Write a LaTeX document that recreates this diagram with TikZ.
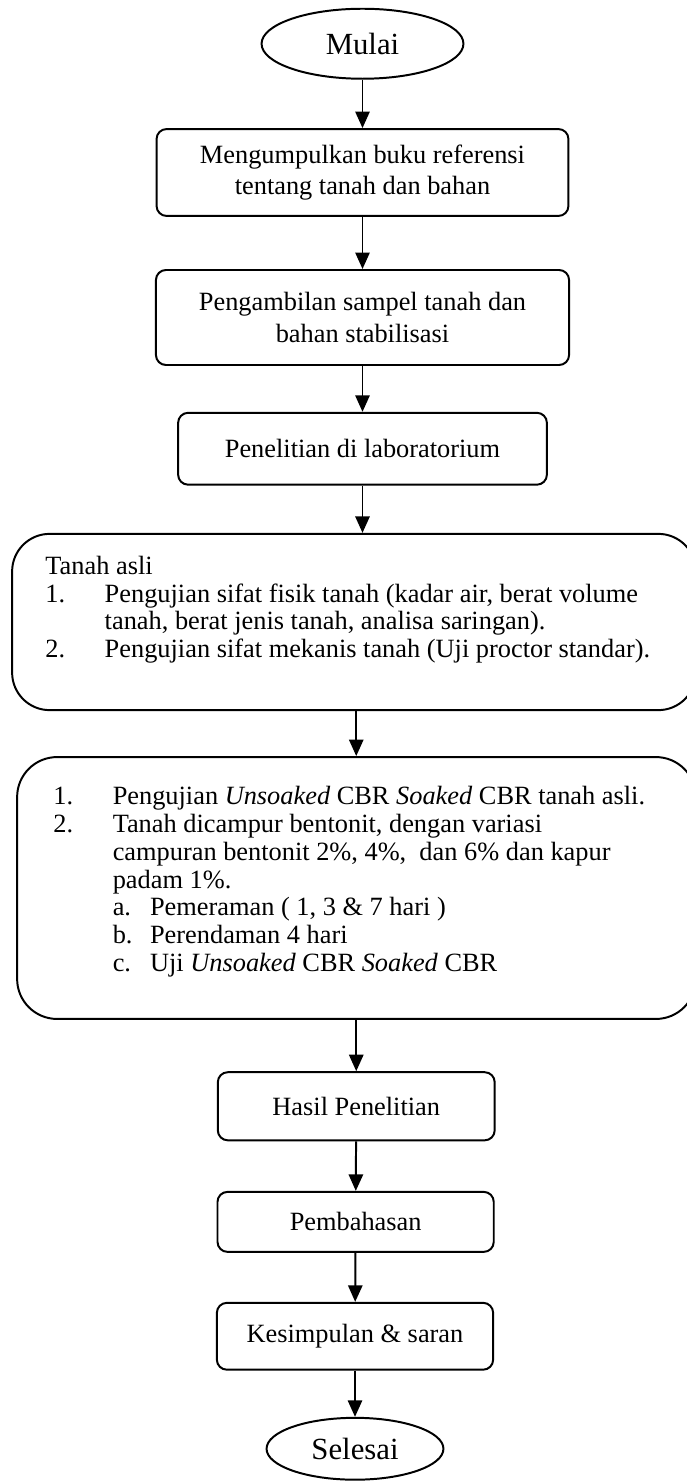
\documentclass[tikz,border=0pt]{standalone}
\usepackage{fontspec}
\setmainfont{Liberation Serif}
\usetikzlibrary{shapes.geometric,arrows.meta}

\newcommand{\numlabel}[1]{\makebox[27pt][l]{#1}}
\newcommand{\sublabel}[1]{\makebox[17pt][l]{#1}}

\begin{document}
\begin{tikzpicture}[
    terminal/.style={ellipse, draw=black, line width=0.9pt, inner sep=0pt, font=\fontsize{14}{16}\selectfont},
    process/.style={rectangle, rounded corners=0.16cm, draw=black, line width=0.9pt, align=center, font=\fontsize{12}{14.2}\selectfont},
    sector/.style={rectangle, rounded corners=0.6cm, draw=black, line width=0.9pt},
    listtext/.style={anchor=north west, align=left, inner sep=0pt, font=\fontsize{12}{12.6}\selectfont},
    flow/.style={-{Triangle[length=7.5pt,width=6.5pt]}, line width=0.9pt}
]
\useasboundingbox (0,0) rectangle (10.992,-23.728);

% Start
\node[terminal, minimum width=3.23cm, minimum height=1.12cm] (mulai) at (5.80,-0.70) {Mulai};

% Preparation
\node[process, minimum width=6.59cm, minimum height=1.39cm] (kumpul) at (5.80,-2.76) {Mengumpulkan buku referensi\\tentang tanah dan bahan};
\node[process, minimum width=6.61cm, minimum height=1.52cm] (sampel) at (5.80,-5.08) {Pengambilan sampel tanah dan\\bahan stabilisasi};
\node[process, minimum width=5.90cm, minimum height=1.15cm] (lab) at (5.80,-7.18) {Penelitian di laboratorium};

% Tanah asli
\node[sector, minimum width=10.94cm, minimum height=2.82cm] (asli) at (5.664,-9.952) {};
\node[listtext] (asliText) at (0.72,-8.89) {Tanah asli\\
\numlabel{1.}Pengujian sifat fisik tanah (kadar air, berat volume\\
\hspace*{27pt}tanah, berat jenis tanah, analisa saringan).\\
\numlabel{2.}Pengujian sifat mekanis tanah (Uji proctor standar).};

% CBR tests
\node[sector, rounded corners=0.64cm, minimum width=10.86cm, minimum height=4.19cm] (cbr) at (5.704,-14.208) {};
\node[listtext] (cbrText) at (0.848,-12.58) {\numlabel{1.}Pengujian \textit{Unsoaked} CBR \textit{Soaked} CBR tanah asli.\\
\numlabel{2.}Tanah dicampur bentonit, dengan variasi\\
\hspace*{27pt}campuran bentonit 2\%, 4\%,\ \ dan 6\% dan kapur\\
\hspace*{27pt}padam 1\%.\\
\hspace*{27pt}\sublabel{a.}Pemeraman ( 1, 3 \& 7 hari )\\
\hspace*{27pt}\sublabel{b.}Perendaman 4 hari\\
\hspace*{27pt}\sublabel{c.}Uji \textit{Unsoaked} CBR \textit{Soaked} CBR};

% Results
\node[process, minimum width=4.43cm, minimum height=1.09cm] (hasil) at (5.70,-17.70) {Hasil Penelitian};
\node[process, minimum width=4.42cm, minimum height=0.96cm] (bahas) at (5.69,-19.55) {Pembahasan};
\node[process, minimum width=4.42cm, minimum height=1.07cm] (simpul) at (5.68,-21.38) {Kesimpulan \& saran};

% End
\node[terminal, minimum width=2.83cm, minimum height=0.99cm] (selesai) at (5.68,-23.18) {Selesai};

% Connections
\draw[flow] (mulai) -- (kumpul);
\draw[flow] (kumpul) -- (sampel);
\draw[flow] (sampel) -- (lab);
\draw[flow] (lab) -- (lab |- asli.north);
\draw[flow] (hasil |- asli.south) -- (hasil |- cbr.north);
\draw[flow] (hasil |- cbr.south) -- (hasil);
\draw[flow] (hasil) -- (bahas);
\draw[flow] (bahas) -- (simpul);
\draw[flow] (simpul) -- (selesai);

\end{tikzpicture}
\end{document}
